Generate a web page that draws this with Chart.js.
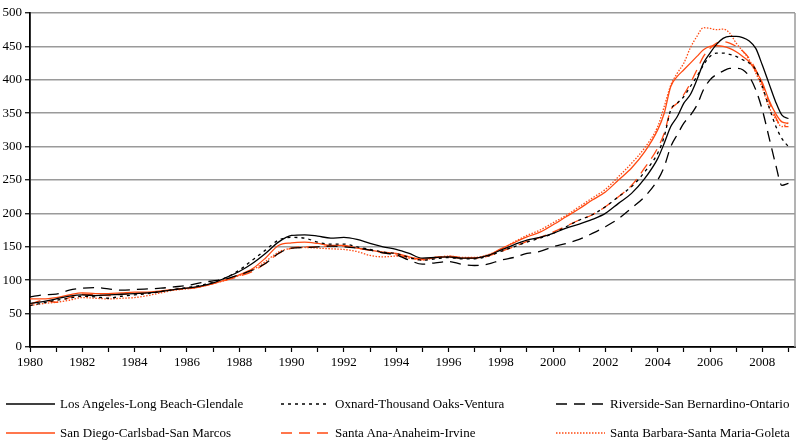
<!DOCTYPE html>
<html>
<head>
<meta charset="utf-8">
<script src="https://cdn.jsdelivr.net/npm/chart.js@4/dist/chart.umd.min.js"></script>
<style>
  html, body { margin: 0; padding: 0; background: #fff; }
  #wrap { position: relative; width: 800px; height: 444px; font-family: "Liberation Serif", "Times New Roman", serif; }
  #c { position: absolute; left: 0; top: 0; }
  .lg { position: absolute; display: flex; align-items: center; font-size: 13px; color: #000; white-space: nowrap; height: 16px; }
  .lg svg { margin-right: 5px; }
</style>
</head>
<body>
<div id="wrap">
  <canvas id="c" width="800" height="444"></canvas>
  <div id="legend"></div>
</div>
<script>
// ---- Data ----
const years = [
  1980,1980.5,1981,1981.5,1982,1982.5,1983,1983.5,1984,1984.5,
  1985,1985.5,1986,1986.5,1987,1987.5,1988,1988.5,1989,1989.5,
  1990,1990.5,1991,1991.5,1992,1992.5,1993,1993.5,1994,1994.5,
  1995,1995.5,1996,1996.5,1997,1997.5,1998,1998.5,1999,1999.5,
  2000,2000.5,2001,2001.5,2002,2002.5,2003,2003.5,
  2004,2004.25,2004.5,2004.75,2005,2005.25,2005.5,2005.75,
  2006,2006.25,2006.5,2006.75,2007,2007.25,2007.5,2007.75,
  2008,2008.25,2008.5,2008.75,2009
];
const seriesNames = [
  "Los Angeles-Long Beach-Glendale",
  "Oxnard-Thousand Oaks-Ventura",
  "Riverside-San Bernardino-Ontario",
  "San Diego-Carlsbad-San Marcos",
  "Santa Ana-Anaheim-Irvine",
  "Santa Barbara-Santa Maria-Goleta"
];
const losAngeles = [
  65,68,72,76,78,77,78,79,80,81,83,86,88,91,96,104,113,125,140,157,
  167,168,166,163,164,161,155,150,146,140,133,134,135,133,133,137,145,153,160,164,
  170,178,184,191,200,215,230,252,
  282,305,330,345,365,378,400,425,440,453,462,465,465,463,458,447,422,395,368,347,342
];
const oxnard = [
  62,66,70,73,76,75,73,76,78,80,83,86,89,92,97,104,115,130,145,160,
  164,163,157,154,154,150,146,142,140,134,130,132,134,132,132,136,143,150,157,163,
  170,180,190,198,210,225,240,262,
  290,315,355,365,375,390,405,422,435,440,440,438,435,430,425,415,390,360,332,312,300
];
const riverside = [
  75,78,79,85,88,89,87,85,86,87,88,90,92,96,99,102,108,115,125,140,
  148,149,150,151,150,148,145,141,138,130,124,126,128,124,122,124,130,134,140,143,
  150,155,161,170,180,192,208,225,
  250,270,300,318,335,347,362,385,400,408,413,417,417,415,405,385,355,315,275,242,245
];
const sanDiego = [
  72,72,74,78,81,80,80,81,82,82,84,86,88,90,95,101,108,117,133,152,
  156,157,155,152,152,148,145,142,140,135,131,134,135,133,133,137,147,156,165,172,
  183,195,207,220,232,250,268,292,
  325,350,390,405,415,425,435,445,450,451,450,447,442,435,427,413,396,370,350,337,335
];
const santaAna = [
  64,70,67,74,79,78,77,79,80,81,83,86,87,90,95,100,106,113,125,140,
  148,150,150,151,151,148,145,141,138,134,132,134,136,134,133,136,143,150,158,164,
  172,181,190,198,210,225,242,268,
  298,320,355,365,378,395,415,435,447,455,457,455,450,443,432,415,393,368,345,330,330
];
const santaBarbara = [
  62,65,67,70,74,73,72,73,74,77,81,85,87,90,95,100,107,115,128,142,
  148,149,148,147,146,143,137,135,136,133,130,134,136,134,134,138,146,157,167,175,
  186,197,210,223,236,255,275,298,
  330,360,392,410,425,448,465,478,477,475,476,470,455,443,430,410,388,360,342,330,336
];
const xMin = 1980, xMax = 2009.25;
const yTicks = [0,50,100,150,200,250,300,350,400,450,500];

// ---- Styles ----
const BLACK = "#000000";
const ORANGE = "#ff4a12";
const styles = [
  { color: BLACK,  dash: [] },
  { color: BLACK,  dash: [3, 4] },
  { color: BLACK,  dash: [11, 7] },
  { color: ORANGE, dash: [] },
  { color: ORANGE, dash: [11, 7] },
  { color: ORANGE, dash: [1.5, 1.5] }
];
const allSeries = [losAngeles, oxnard, riverside, sanDiego, santaAna, santaBarbara];

const toPoints = arr => arr.map((v, i) => ({ x: years[i], y: v }));

const datasets = allSeries.map((arr, i) => ({
  label: seriesNames[i],
  data: toPoints(arr),
  borderColor: styles[i].color,
  backgroundColor: styles[i].color,
  borderDash: styles[i].dash,
  borderWidth: 1.3,
  pointRadius: 0,
  fill: false,
  cubicInterpolationMode: "monotone"
}));

const FONT = "'Liberation Serif', 'Times New Roman', serif";

const frame = {
  id: "frame",
  afterDatasetsDraw(chart) {
    const { ctx, chartArea: a } = chart;
    ctx.save();
    ctx.strokeStyle = "#9a9a9a";
    ctx.lineWidth = 1.5;
    ctx.beginPath();
    ctx.moveTo(a.right, a.top);
    ctx.lineTo(a.right, a.bottom);
    ctx.stroke();
    ctx.restore();
  }
};

const chart = new Chart(document.getElementById("c"), {
  type: "line",
  data: { datasets },
  plugins: [frame],
  options: {
    responsive: false,
    animation: false,
    events: [],
    layout: { padding: { left: 0, top: 13, right: 5, bottom: 0 } },
    plugins: { legend: { display: false }, tooltip: { enabled: false } },
    scales: {
      x: {
        type: "linear",
        min: xMin,
        max: xMax,
        afterFit(s) { s.height = 97; },
        border: { display: true, color: "#000", width: 1.8 },
        grid: { display: true, drawOnChartArea: false, drawTicks: true, tickLength: 5, tickColor: "#000", tickWidth: 1.2 },
        ticks: {
          stepSize: 1,
          includeBounds: false,
          autoSkip: false,
          maxRotation: 0,
          padding: 3,
          color: "#000",
          font: { family: FONT, size: 13 },
          callback: v => (Math.round(v) % 2 === 0 ? String(Math.round(v)) : "")
        }
      },
      y: {
        min: 0,
        max: 500,
        afterFit(s) { s.width = 30; },
        afterBuildTicks(s) { s.ticks = yTicks.map(v => ({ value: v })); },
        border: { display: true, color: "#000", width: 1.8 },
        grid: { color: "#9a9a9a", lineWidth: 1.5, drawTicks: true, tickLength: 5, tickColor: "#000", tickWidth: 1.2 },
        ticks: {
          padding: 3,
          color: "#000",
          font: { family: FONT, size: 13 }
        }
      }
    }
  }
});

// ---- HTML legend built from the datasets ----
const legendCols = [6, 281, 556];
const legendRows = [396, 425];
const legendEl = document.getElementById("legend");
datasets.forEach((ds, i) => {
  const col = i % 3, row = Math.floor(i / 3);
  const item = document.createElement("div");
  item.className = "lg";
  item.style.left = legendCols[col] + "px";
  item.style.top = legendRows[row] + "px";
  const svgNS = "http://www.w3.org/2000/svg";
  const svg = document.createElementNS(svgNS, "svg");
  svg.setAttribute("width", "49");
  svg.setAttribute("height", "10");
  const ln = document.createElementNS(svgNS, "line");
  ln.setAttribute("x1", "0"); ln.setAttribute("x2", "49");
  ln.setAttribute("y1", "5"); ln.setAttribute("y2", "5");
  ln.setAttribute("stroke", ds.borderColor);
  ln.setAttribute("stroke-width", "1.3");
  if (ds.borderDash.length) ln.setAttribute("stroke-dasharray", ds.borderDash.join(" "));
  svg.appendChild(ln);
  item.appendChild(svg);
  const t = document.createElement("span");
  t.textContent = ds.label;
  item.appendChild(t);
  legendEl.appendChild(item);
});
</script>
</body>
</html>
